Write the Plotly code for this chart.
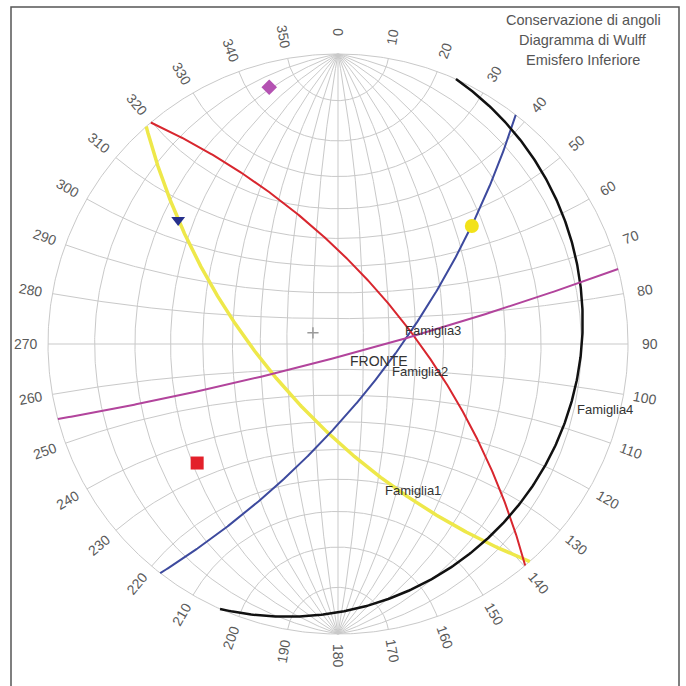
import numpy as np
import plotly.graph_objects as go

# Planes (dip direction / dip, degrees)
plane_colors = ['#eee84a', '#3d4a9e', '#d8262e', '#111111', '#b2449c']
dip_dirs = [228.6, 127.8, 49.8, 114.0, 165.0]
dips = [63.2, 69.8, 64.9, 10.8, 85.0]
line_widths = [3.5, 2, 2, 2.5, 2]

# Pole symbols for each plane
pole_symbols = ['circle', 'triangle-down', 'square', 'cross-thin', 'diamond']
pole_colors = ['#f2e21a', '#26308c', '#e3202a', '#9a9a9a', '#b452b2']
pole_sizes = [14, 12, 13, 8, 12]

# Text labels inside the net (pixel positions of the reference)
label_texts = ['Famiglia3', 'FRONTE', 'Famiglia2', 'Famiglia4', 'Famiglia1']
label_px = [(403, 330), (348, 361), (390, 371), (575, 409), (383, 490)]
label_sizes = [13, 14, 13, 13, 13]

azimuth_ticks = list(range(0, 360, 10))
title_lines = ['Conservazione di angoli', 'Diagramma di Wulff', 'Emisfero Inferiore']

CX, CY, R = 338, 344, 290   # centre and radius of the net in pixels


def px2data(px, py):
    return (px - CX) / R, (CY - py) / R


def project(e, n, d):
    # equal angle (stereographic), lower hemisphere
    return e / (1 + d), n / (1 + d)


def great_circle(ddir, dip, n=400):
    dd, dp = np.radians(ddir), np.radians(dip)
    st = dd - np.pi / 2
    s = np.array([np.sin(st), np.cos(st), 0.0])
    dv = np.array([np.cos(dp) * np.sin(dd), np.cos(dp) * np.cos(dd), np.sin(dp)])
    th = np.linspace(0, np.pi, n)
    v = np.outer(np.cos(th), s) + np.outer(np.sin(th), dv)
    return project(v[:, 0], v[:, 1], v[:, 2])


def pole(ddir, dip):
    t, p = np.radians(ddir + 180), np.radians(90 - dip)
    return project(np.cos(p) * np.sin(t), np.cos(p) * np.cos(t), np.sin(p))


fig = go.Figure()

# Wulff net grid
gx, gy = [], []
phi = np.radians(np.linspace(-90, 90, 361))
for lam in range(-80, 90, 10):
    l = np.radians(lam)
    x, y = project(np.cos(phi) * np.sin(l), np.sin(phi), np.cos(phi) * np.cos(l))
    gx += list(x) + [None]
    gy += list(y) + [None]
lamv = np.radians(np.linspace(-90, 90, 361))
for ph in range(-80, 90, 10):
    p = np.radians(ph)
    x, y = project(np.cos(p) * np.sin(lamv), np.full_like(lamv, np.sin(p)), np.cos(p) * np.cos(lamv))
    gx += list(x) + [None]
    gy += list(y) + [None]
a = np.linspace(0, 2 * np.pi, 721)
gx += list(np.cos(a))
gy += list(np.sin(a))
fig.add_trace(go.Scatter(x=gx, y=gy, mode='lines', line=dict(color='#c9c9c9', width=1),
                         hoverinfo='skip', showlegend=False))

# planes
for c, dd, dp, w in zip(plane_colors, dip_dirs, dips, line_widths):
    x, y = great_circle(dd, dp)
    fig.add_trace(go.Scatter(x=x, y=y, mode='lines', line=dict(color=c, width=w), showlegend=False))

# poles
for dd, dp, sym, c, s in zip(dip_dirs, dips, pole_symbols, pole_colors, pole_sizes):
    x, y = pole(dd, dp)
    fig.add_trace(go.Scatter(x=[x], y=[y], mode='markers', showlegend=False,
                             marker=dict(symbol=sym, color=c, size=s,
                                         line=dict(color=c, width=1.5 if sym == 'cross-thin' else 0))))

ann = []
# azimuth labels
for az in azimuth_ticks:
    t = np.radians(az)
    ang = az - 90 if az <= 180 else az - 270
    ann.append(dict(x=1.076 * np.sin(t), y=1.076 * np.cos(t), text=str(az), showarrow=False,
                    textangle=ang, font=dict(size=14, color='#5a5a5a'),
                    xanchor='center', yanchor='middle'))

for txt, (px, py), fs in zip(label_texts, label_px, label_sizes):
    x, y = px2data(px, py)
    ann.append(dict(x=x, y=y, text=txt, showarrow=False, xanchor='left', yanchor='middle',
                    font=dict(size=fs, color='#333333')))

for i, txt in enumerate(title_lines):
    x, y = px2data(583, 20 + 20 * i)
    ann.append(dict(x=x, y=y, text=txt, showarrow=False, xanchor='center', yanchor='middle',
                    font=dict(size=14.5, color='#555555')))

fig.update_layout(
    width=686, height=686,
    margin=dict(l=0, r=0, t=0, b=0),
    paper_bgcolor='white', plot_bgcolor='white',
    font=dict(family='Liberation Sans, Arial, sans-serif'),
    xaxis=dict(range=[-CX / R, (686 - CX) / R], visible=False, fixedrange=True),
    yaxis=dict(range=[(CY - 686) / R, CY / R], visible=False, fixedrange=True),
    annotations=ann,
    shapes=[dict(type='rect', xref='paper', yref='paper', x0=11 / 686, x1=679 / 686,
                 y0=-0.02, y1=1 - 7 / 686, line=dict(color='#555555', width=1.5))],
)

# drop the default page margin so the figure sits at the window corner
fig.write_html("out.html", config={'displayModeBar': False},
               post_script="document.body.style.margin='0';")
